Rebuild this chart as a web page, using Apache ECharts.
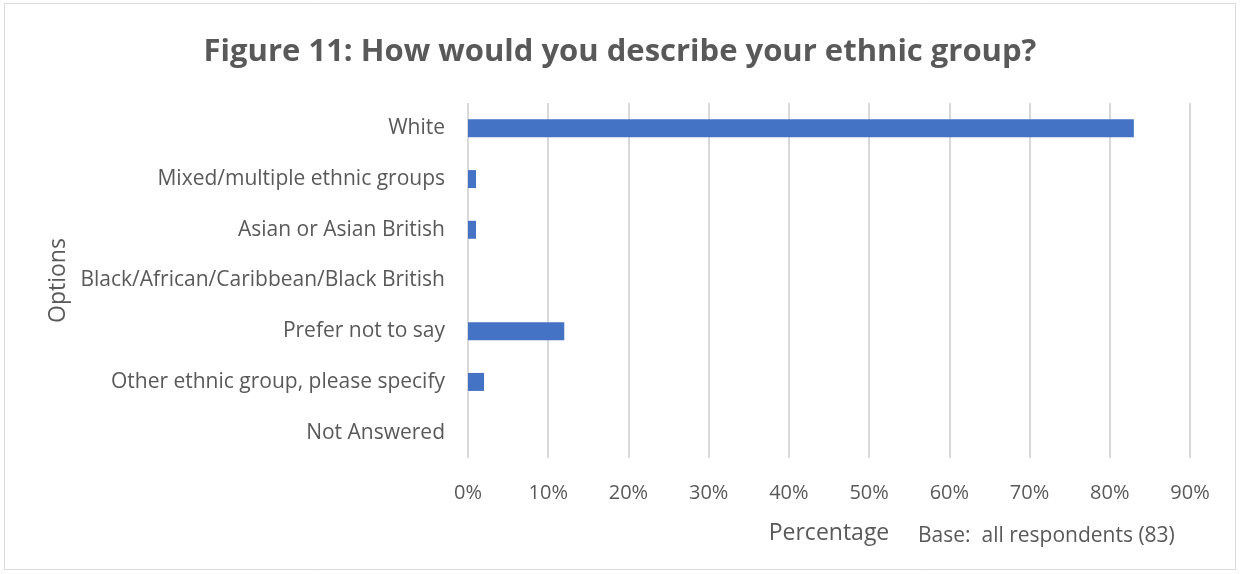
<!DOCTYPE html>
<html>
<head>
<meta charset="utf-8">
<script src="https://cdn.jsdelivr.net/npm/echarts@6/dist/echarts.min.js"></script>
<style>
html,body{margin:0;padding:0;background:#fff;}
#c{width:1240px;height:574px;}
</style>
</head>
<body>
<div id="c"></div>
<script>
const categories = ["White","Mixed/multiple ethnic groups","Asian or Asian British","Black/African/Caribbean/Black British","Prefer not to say","Other ethnic group, please specify","Not Answered"];
const values = [83, 1, 1, 0, 12, 2, 0];
const titleText = "Figure 11: How would you describe your ethnic group?";
const baseNote = "Base:  all respondents (83)";

const font = "'Open Sans', 'Noto Sans', sans-serif";
const chart = echarts.init(document.getElementById('c'));
chart.setOption({
  backgroundColor: '#fff',
  animation: false,
  title: {
    text: titleText,
    left: 'center',
    top: 32,
    textStyle: {fontFamily: font, fontSize: 31, fontWeight: 'bold', color: '#595959'}
  },
  graphic: [
    {type: 'rect', shape: {x: 4.5, y: 3.5, width: 1231, height: 566}, style: {fill: 'none', stroke: '#d9d9d9', lineWidth: 1}, silent: true},
    {type: 'text', left: 918, top: 526, style: {text: baseNote, fontFamily: font, fontSize: 21, fill: '#595959'}}
  ],
  grid: {left: 468, right: 50, top: 103, bottom: 116},
  xAxis: {
    type: 'value', min: 0, max: 90, interval: 10,
    axisLabel: {formatter: '{value}%', fontFamily: font, fontSize: 20, color: '#595959', margin: 25},
    splitLine: {show: true, lineStyle: {color: '#d9d9d9', width: 2}},
    axisLine: {show: false}, axisTick: {show: false},
    name: 'Percentage', nameLocation: 'middle', nameGap: 64,
    nameTextStyle: {fontFamily: font, fontSize: 23, color: '#595959'}
  },
  yAxis: {
    type: 'category', data: categories, inverse: true,
    axisLine: {show: false}, axisTick: {show: false},
    axisLabel: {fontFamily: font, fontSize: 21, color: '#595959', margin: 23},
    name: 'Options', nameLocation: 'middle', nameRotate: 90, nameGap: 397,
    nameTextStyle: {fontFamily: font, fontSize: 23, color: '#595959'}
  },
  series: [{
    type: 'bar', data: values, barWidth: 18,
    itemStyle: {color: '#4472c4'}
  }]
});
</script>
</body>
</html>
